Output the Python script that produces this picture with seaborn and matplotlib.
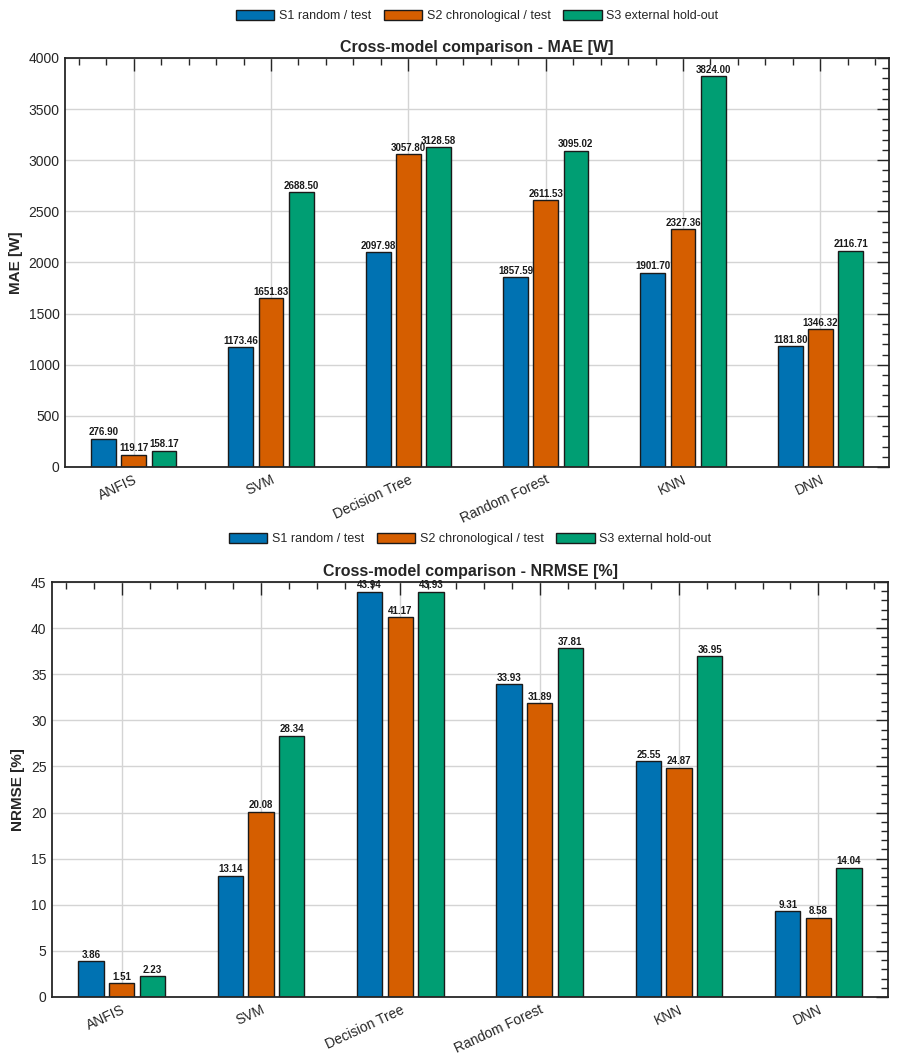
import numpy as np
import pandas as pd
import seaborn as sns
import matplotlib.pyplot as plt
from matplotlib.ticker import MultipleLocator

models = ['ANFIS', 'SVM', 'Decision Tree', 'Random Forest', 'KNN', 'DNN']
scenarios = ['S1 random / test', 'S2 chronological / test', 'S3 external hold-out']

mae_s1 = [276.90, 1173.46, 2097.98, 1857.59, 1901.70, 1181.80]
mae_s2 = [119.17, 1651.83, 3057.80, 2611.53, 2327.36, 1346.32]
mae_s3 = [158.17, 2688.50, 3128.58, 3095.02, 3824.00, 2116.71]

nrmse_s1 = [3.86, 13.14, 43.94, 33.93, 25.55, 9.31]
nrmse_s2 = [1.51, 20.08, 41.17, 31.89, 24.87, 8.58]
nrmse_s3 = [2.23, 28.34, 43.93, 37.81, 36.95, 14.04]

colors = ['#0072B2', '#D55E00', '#009E73']
dark = '#262626'

sns.set_style('white')
plt.rcParams['font.family'] = ['Liberation Sans', 'DejaVu Sans']


def long_df(s1, s2, s3):
    rows = []
    for sc, vals in zip(scenarios, [s1, s2, s3]):
        for m, v in zip(models, vals):
            rows.append({'model': m, 'scenario': sc, 'value': v})
    return pd.DataFrame(rows)


def draw(ax, df, title, ylabel, ymax, ymajor, yminor, leg_y):
    sns.barplot(data=df, x='model', y='value', hue='scenario', palette=colors,
                width=0.66, gap=0.18, errorbar=None, edgecolor='#1a1a1a',
                linewidth=1.0, saturation=1, ax=ax)
    for cont in ax.containers:
        ax.bar_label(cont, fmt='%.2f', padding=1, fontsize=7,
                     fontweight='bold', color='#1a1a1a')
    ax.set_xlim(-0.5, 5.5)
    ax.set_ylim(0, ymax)
    ax.yaxis.set_major_locator(MultipleLocator(ymajor))
    ax.yaxis.set_minor_locator(MultipleLocator(yminor))
    ax.xaxis.set_minor_locator(MultipleLocator(0.2))
    ax.grid(True, which='major', color='#d4d4d4', linewidth=1)
    ax.set_axisbelow(True)
    ax.tick_params(which='both', direction='in', top=True, right=True,
                   color=dark, labelcolor=dark, labelsize=10, width=1)
    ax.tick_params(which='major', length=9, pad=4)
    ax.tick_params(which='minor', length=5)
    for s in ax.spines.values():
        s.set_color(dark)
        s.set_linewidth(1.3)
    plt.setp(ax.get_xticklabels(), rotation=25, ha='right',
             rotation_mode='anchor')
    ax.set_xlabel('')
    ax.set_ylabel(ylabel, fontsize=11, fontweight='bold', color=dark, labelpad=4)
    ax.set_title(title, fontsize=11.5, fontweight='bold', color=dark, pad=4)
    handles, labels = ax.get_legend_handles_labels()
    ax.legend(handles, labels, loc='center', bbox_to_anchor=(0.5, leg_y),
              ncol=3, frameon=False, fontsize=9, handlelength=3.1,
              handleheight=0.95, handletextpad=0.35, columnspacing=1.0)


fig, axes = plt.subplots(2, 1, figsize=(8.98, 10.64), dpi=100)
axes[0].set_position([0.0724, 0.5611, 0.9176, 0.3844])
axes[1].set_position([0.0579, 0.0630, 0.9310, 0.3900])

draw(axes[0], long_df(mae_s1, mae_s2, mae_s3),
     'Cross-model comparison - MAE [W]', 'MAE [W]', 4000, 500, 100, 1 + 42 / 409)
draw(axes[1], long_df(nrmse_s1, nrmse_s2, nrmse_s3),
     'Cross-model comparison - NRMSE [%]', 'NRMSE [%]', 45, 5, 1, 1 + 43 / 415)

fig.savefig('out.png', dpi=100)
